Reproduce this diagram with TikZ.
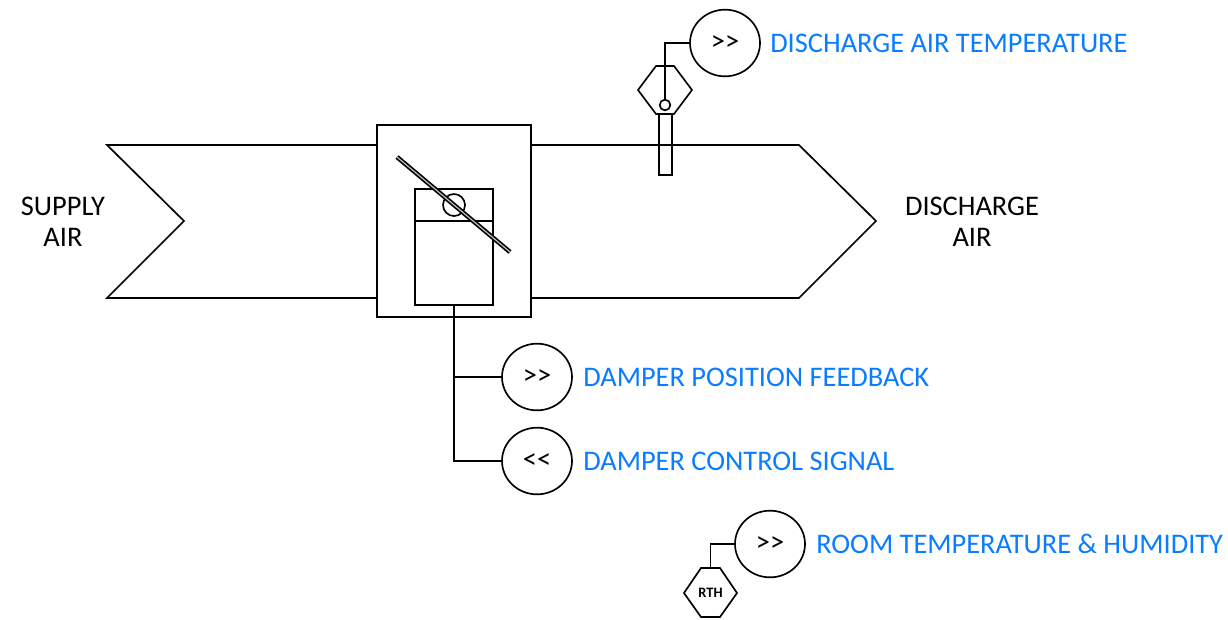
\documentclass[tikz,border=0pt]{standalone}
\usepackage{fontspec}
\setmainfont{Carlito}
\usetikzlibrary{shapes.geometric}
\definecolor{tagblue}{HTML}{0A7CFF}
\tikzset{
  x=0.75pt,y=-0.75pt,
  ln/.style={draw=black,line width=1.25pt,line join=miter},
  tag/.style={ellipse,draw=black,line width=1.25pt,minimum width=52.5pt,minimum height=50pt,inner sep=0pt,font=\fontsize{21.3}{23}\selectfont},
  lbl/.style={text=tagblue,anchor=west,inner sep=0pt,font=\fontsize{21.3}{25}\selectfont},
  blk/.style={text=black,align=center,inner sep=0pt,font=\fontsize{21.3}{23.5}\selectfont},
  boxn/.style={draw=black,line width=1.25pt,rectangle,inner sep=0pt}
}
\begin{document}
\begin{tikzpicture}
\useasboundingbox (0,0) rectangle (1228,619);
% duct
\coordinate (ltt) at (377,145); \coordinate (ltb) at (377,298);
\coordinate (rtt) at (531,145); \coordinate (rtb) at (531,298);
\draw[ln] (ltt) -- (107,145) -- (184,221) -- (107,298) -- (ltb);
\draw[ln] (rtt) -- (799,145) -- (876,221) -- (799,298) -- (rtb);
% damper box
\node[boxn,minimum width=115.5pt,minimum height=144pt] (box) at (454,221) {};
\node[boxn,minimum width=58.5pt,minimum height=87pt] (act) at (454,247) {};
\coordinate (al) at (415,221); \coordinate (ar) at (493,221);
\draw[ln] (al) -- (ar);
\node[circle,draw=black,line width=1.25pt,minimum size=16.5pt,inner sep=0pt] (pivot) at (454,205) {};
\coordinate (d1) at (397,157); \coordinate (d2) at (510,252);
\draw[black,line width=3.4pt] (d1) -- (d2);
\draw[white!75!black,line width=0.9pt] (d1) -- (d2);
% signals
\node[tag] (fb) at (537,377) {>{}>};
\node[tag] (cs) at (537,461) {<{}<};
\draw[ln] (act.south) -- (454,461) -- (cs.west);
\draw[ln] (454,377) -- (fb.west);
% discharge temperature sensor
\node[tag] (dat) at (725,43) {>{}>};
\node[boxn,minimum width=9.75pt,minimum height=45.75pt] (well) at (665.5,144.5) {};
\draw[ln] (638,90) -- (656,66) -- (674,66) -- (692,90) -- (674,114) -- (656,114) -- cycle;
\node[circle,draw=black,line width=1.25pt,minimum size=8pt,inner sep=0pt] (bulb) at (665,105) {};
\draw[ln] (dat.west) -- (bulb.north |- dat.west) -- (bulb.north);
% room sensor
\node[tag] (rt) at (770,544) {>{}>};
\draw[ln] (684,593) -- (701,568) -- (720,568) -- (737,593) -- (720,617) -- (701,617) -- cycle;
\node[inner sep=0pt,font=\bfseries\fontsize{10.8}{12}\selectfont] (rth) at (710.5,593) {RTH};
\coordinate (rthtop) at (710.5,568);
\draw[ln] (rt.west) -- (rthtop |- rt.west) -- (rthtop);
% labels
\node[blk] (sa) at (63,222) {SUPPLY\\AIR};
\node[blk] (da) at (972,222) {DISCHARGE\\AIR};
\node[lbl] (l1) at (770,43) {DISCHARGE AIR TEMPERATURE};
\node[lbl] (l2) at (583,377) {DAMPER POSITION FEEDBACK};
\node[lbl] (l3) at (583,461) {DAMPER CONTROL SIGNAL};
\node[lbl] (l4) at (816,544) {ROOM TEMPERATURE \& HUMIDITY};
\end{tikzpicture}
\end{document}
